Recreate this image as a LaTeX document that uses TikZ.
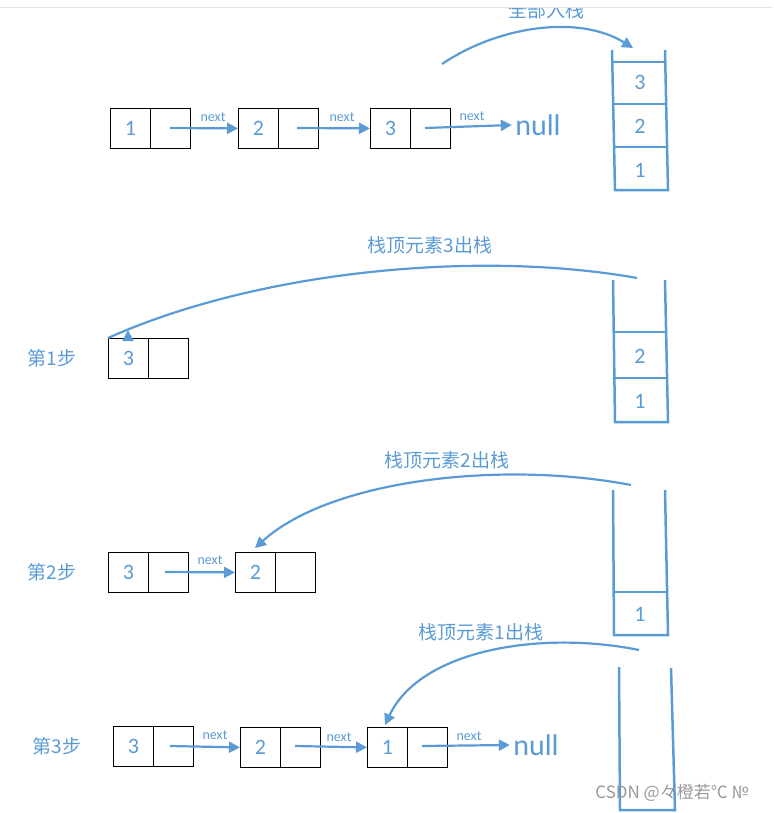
\documentclass[tikz,border=0pt]{standalone}
\usepackage{fontspec}
\setmainfont{Carlito}
\newfontfamily\cjk{Noto Sans CJK SC}
\usetikzlibrary{arrows.meta}
\definecolor{bl}{HTML}{5B9BD5}
\tikzset{
  cell/.style={draw=black,line width=0.8pt,minimum width=40pt,minimum height=40pt,inner sep=0pt,anchor=north west},
  num/.style={text=bl,font=\fontsize{22}{22}\selectfont},
  nx/.style={text=bl,font=\fontsize{14}{14}\selectfont},
  nul/.style={text=bl,font=\fontsize{30}{30}\selectfont},
  lab/.style={text=bl,font=\cjk\fontsize{19}{19}\selectfont},
  arr/.style={draw=bl,line width=2.2pt,-{Triangle[length=11pt,width=11pt]}},
  stk/.style={draw=bl,line width=2.5pt},
}
\begin{document}
\begin{tikzpicture}[x=1pt,y=-1pt]
\useasboundingbox (0,0) rectangle (773,813);
\clip (0,0) rectangle (773,813);
% top label
\node[lab] (t0) at (546,10) {全部入栈};
\fill[white] (0,0) rectangle (773,8);
\draw[gray!20,line width=1pt] (0,8) -- (773,8);
% row 0
\foreach \n/\x/\v in {a/110/1,b/238/2,c/370/3}{
  \node[cell,num] (\n1) at (\x,108) {\v};
  \node[cell] (\n2) at (\x+40,108) {};
}
\node[nul] (null0) at (538,125) {null};
\coordinate (a0s) at (170,128); \coordinate (b0s) at (297,128); \coordinate (c0s) at (425,128);
\draw[arr] (a0s) -- (b1.west);
\draw[arr] (b0s) -- (c1.west);
\draw[arr] (c0s) -- (null0.west);
\node[nx] (n01) at (213,117) {next};
\node[nx] (n02) at (342,117) {next};
\node[nx] (n03) at (472,116) {next};
% stack 1
\draw[stk] (612,50) -- (615,190) -- (668,190) -- (665,50);
\foreach \y in {62,104,147}{\draw[stk] (613,\y) -- (666,\y);}
\node[num] (s13) at (640,82) {3};
\node[num] (s12) at (640,126) {2};
\node[num] (s11) at (640,170) {1};
\coordinate (g0) at (442,64); \coordinate (g1) at (633,48);
\draw[arr] (g0) .. controls (500,25) and (580,15) .. (g1);
% step 1
\node[lab] (l1) at (52,358) {第1步};
\node[cell,num] (d1) at (108,338) {3}; \node[cell] (d2) at (148,338) {};
\draw[stk] (613,280) -- (615,422) -- (668,422) -- (665,280);
\foreach \y in {332,378}{\draw[stk] (614,\y) -- (666,\y);}
\node[num] (s22) at (640,356) {2};
\node[num] (s21) at (640,401) {1};
\coordinate (h0) at (637,278);
\draw[arr] (h0) .. controls (480,250) and (260,270) .. (d1.north west) ++(20,-8);
\node[lab] (l2) at (430,245) {栈顶元素3出栈};
% step 2
\node[lab] (l3) at (52,572) {第2步};
\node[cell,num] (e1) at (108,552) {3}; \node[cell] (e2) at (148,552) {};
\node[cell,num] (f1) at (235,552) {2}; \node[cell] (f2) at (275,552) {};
\coordinate (e0s) at (165,572);
\draw[arr] (e0s) -- (f1.west);
\node[nx] (n21) at (210,560) {next};
\draw[stk] (613,490) -- (614,635) -- (668,635) -- (665,490);
\draw[stk] (614,592) -- (666,592);
\node[num] (s31) at (640,614) {1};
\coordinate (k0) at (631,485); \coordinate (k1) at (255,548);
\draw[arr] (k0) .. controls (500,460) and (330,480) .. (k1);
\node[lab] (l4) at (447,460) {栈顶元素2出栈};
% step 3
\node[lab] (l5) at (57,746) {第3步};
\node[cell,num] (p1) at (113,726) {3}; \node[cell] (p2) at (153,726) {};
\node[cell,num] (q1) at (240,727) {2}; \node[cell] (q2) at (280,727) {};
\node[cell,num] (r1) at (367,727) {1}; \node[cell] (r2) at (407,727) {};
\node[nul] (null3) at (536,745) {null};
\coordinate (p0s) at (170,746); \coordinate (q0s) at (295,746); \coordinate (r0s) at (422,746);
\draw[arr] (p0s) -- (q1.west);
\draw[arr] (q0s) -- (r1.west);
\draw[arr] (r0s) -- (null3.west);
\node[nx] (n31) at (215,735) {next};
\node[nx] (n32) at (339,737) {next};
\node[nx] (n33) at (469,736) {next};
\draw[stk] (619,667) -- (620,810) -- (675,810) -- (671,668);
\coordinate (m0) at (639,650); \coordinate (m1) at (385,725);
\draw[arr] (m0) .. controls (540,630) and (420,650) .. (m1);
\node[lab] (l6) at (481,632) {栈顶元素1出栈};
\node[text=gray!80,font=\cjk\fontsize{17}{17}\selectfont] (wm) at (672,793) {CSDN @々橙若℃ №};
\end{tikzpicture}
\end{document}
